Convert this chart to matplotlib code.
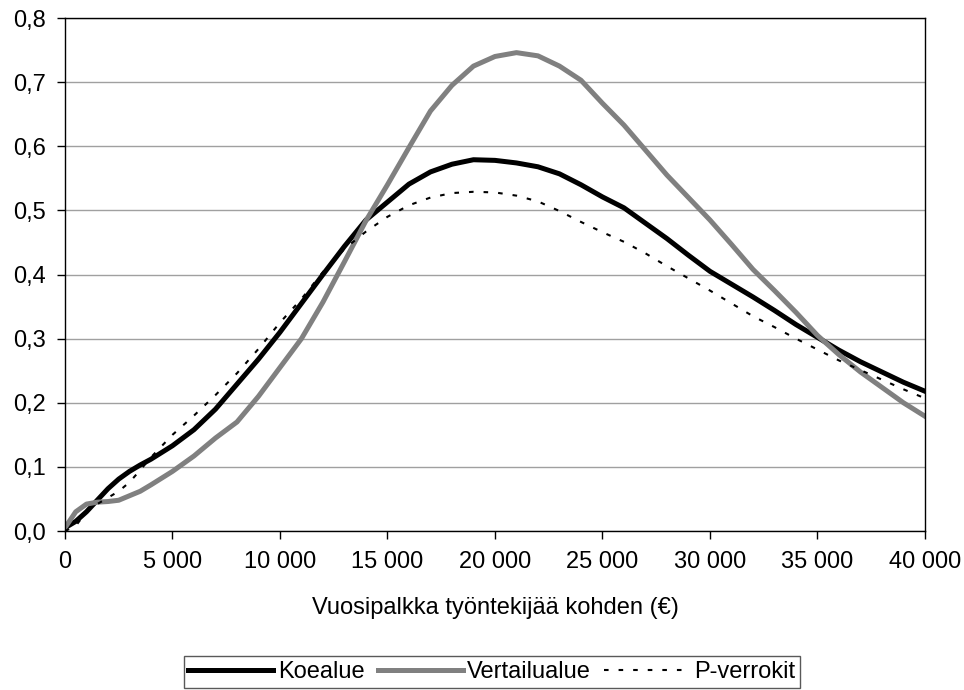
import matplotlib
matplotlib.use("Agg")
import matplotlib.pyplot as plt

plt.rcParams['font.family'] = ['Liberation Sans', 'DejaVu Sans']

# annual wage per employee (EUR)
x = [0, 500, 1000, 1500, 2000, 2500, 3000, 3500, 4000, 5000, 6000, 7000, 8000, 9000,
     10000, 11000, 12000, 13000, 14000, 15000, 16000, 17000, 18000, 19000, 20000,
     21000, 22000, 23000, 24000, 25000, 26000, 27000, 28000, 29000, 30000,
     31000, 32000, 33000, 34000, 35000, 36000, 37000, 38000, 39000, 40000]

koealue = [0.005, 0.015, 0.03, 0.048, 0.066, 0.081, 0.093, 0.103, 0.112, 0.133, 0.158, 0.19,
           0.229, 0.268, 0.31, 0.355, 0.40, 0.444, 0.485, 0.513, 0.541, 0.56, 0.572, 0.579,
           0.578, 0.574, 0.568, 0.557, 0.54, 0.521, 0.504, 0.48, 0.456, 0.43, 0.405,
           0.385, 0.365, 0.344, 0.322, 0.302, 0.282, 0.264, 0.248, 0.232, 0.218]

vertailualue = [0.005, 0.03, 0.042, 0.045, 0.046, 0.048, 0.055, 0.062, 0.072, 0.093, 0.117,
                0.145, 0.17, 0.21, 0.255, 0.30, 0.357, 0.42, 0.484, 0.54, 0.598, 0.655,
                0.695, 0.725, 0.74, 0.746, 0.741, 0.725, 0.703, 0.667, 0.633, 0.594, 0.555,
                0.52, 0.485, 0.447, 0.408, 0.375, 0.341, 0.305, 0.275, 0.248, 0.224, 0.20, 0.179]

p_verrokit = [0.0, 0.008, 0.03, 0.042, 0.052, 0.062, 0.076, 0.095, 0.115, 0.15, 0.18, 0.212,
              0.246, 0.284, 0.325, 0.362, 0.404, 0.44, 0.467, 0.49, 0.508, 0.52, 0.527,
              0.529, 0.528, 0.523, 0.514, 0.499, 0.482, 0.466, 0.451, 0.433, 0.413, 0.394,
              0.375, 0.355, 0.335, 0.318, 0.30, 0.283, 0.266, 0.251, 0.236, 0.221, 0.207]

xticks = [0, 5000, 10000, 15000, 20000, 25000, 30000, 35000, 40000]
xlabels = ["0", "5 000", "10 000", "15 000", "20 000", "25 000", "30 000", "35 000", "40 000"]
yticks = [0, 0.1, 0.2, 0.3, 0.4, 0.5, 0.6, 0.7, 0.8]
ylabels = ["0,0", "0,1", "0,2", "0,3", "0,4", "0,5", "0,6", "0,7", "0,8"]

FS = 17

fig = plt.figure(figsize=(9.64, 6.90), dpi=100)
ax = fig.add_axes([0.0674, 0.2304, 0.8921, 0.7435])

ax.plot(x, koealue, color="black", lw=3.6, label="Koealue")
ax.plot(x, vertailualue, color="#808080", lw=3.6, label="Vertailualue")
ax.plot(x, p_verrokit, color="black", lw=1.5, linestyle=(0, (2.2, 4.8)), label="P-verrokit")

ax.set_xlim(0, 40000)
ax.set_ylim(0, 0.8)
ax.set_xticks(xticks)
ax.set_xticklabels(xlabels)
ax.set_yticks(yticks)
ax.set_yticklabels(ylabels)
ax.tick_params(labelsize=FS, length=5.5, width=1, direction="out", color="black")
ax.tick_params(axis="x", pad=9)
ax.tick_params(axis="y", pad=8)
ax.yaxis.grid(True, color="#a0a0a0", lw=1)
ax.set_axisbelow(True)
for s in ax.spines.values():
    s.set_color("black")
    s.set_linewidth(1)

ax.set_xlabel("Vuosipalkka työntekijää kohden (€)", fontsize=FS, labelpad=17)

leg = fig.legend(loc="lower center", bbox_to_anchor=(0.51, 0.0), ncol=3, fontsize=FS,
                 frameon=True, fancybox=False, edgecolor="#303030", handlelength=3.6,
                 handletextpad=0.2, columnspacing=0.55, borderpad=0.2, borderaxespad=0.1)
leg.get_frame().set_linewidth(1)

fig.savefig("out.png", dpi=100)
